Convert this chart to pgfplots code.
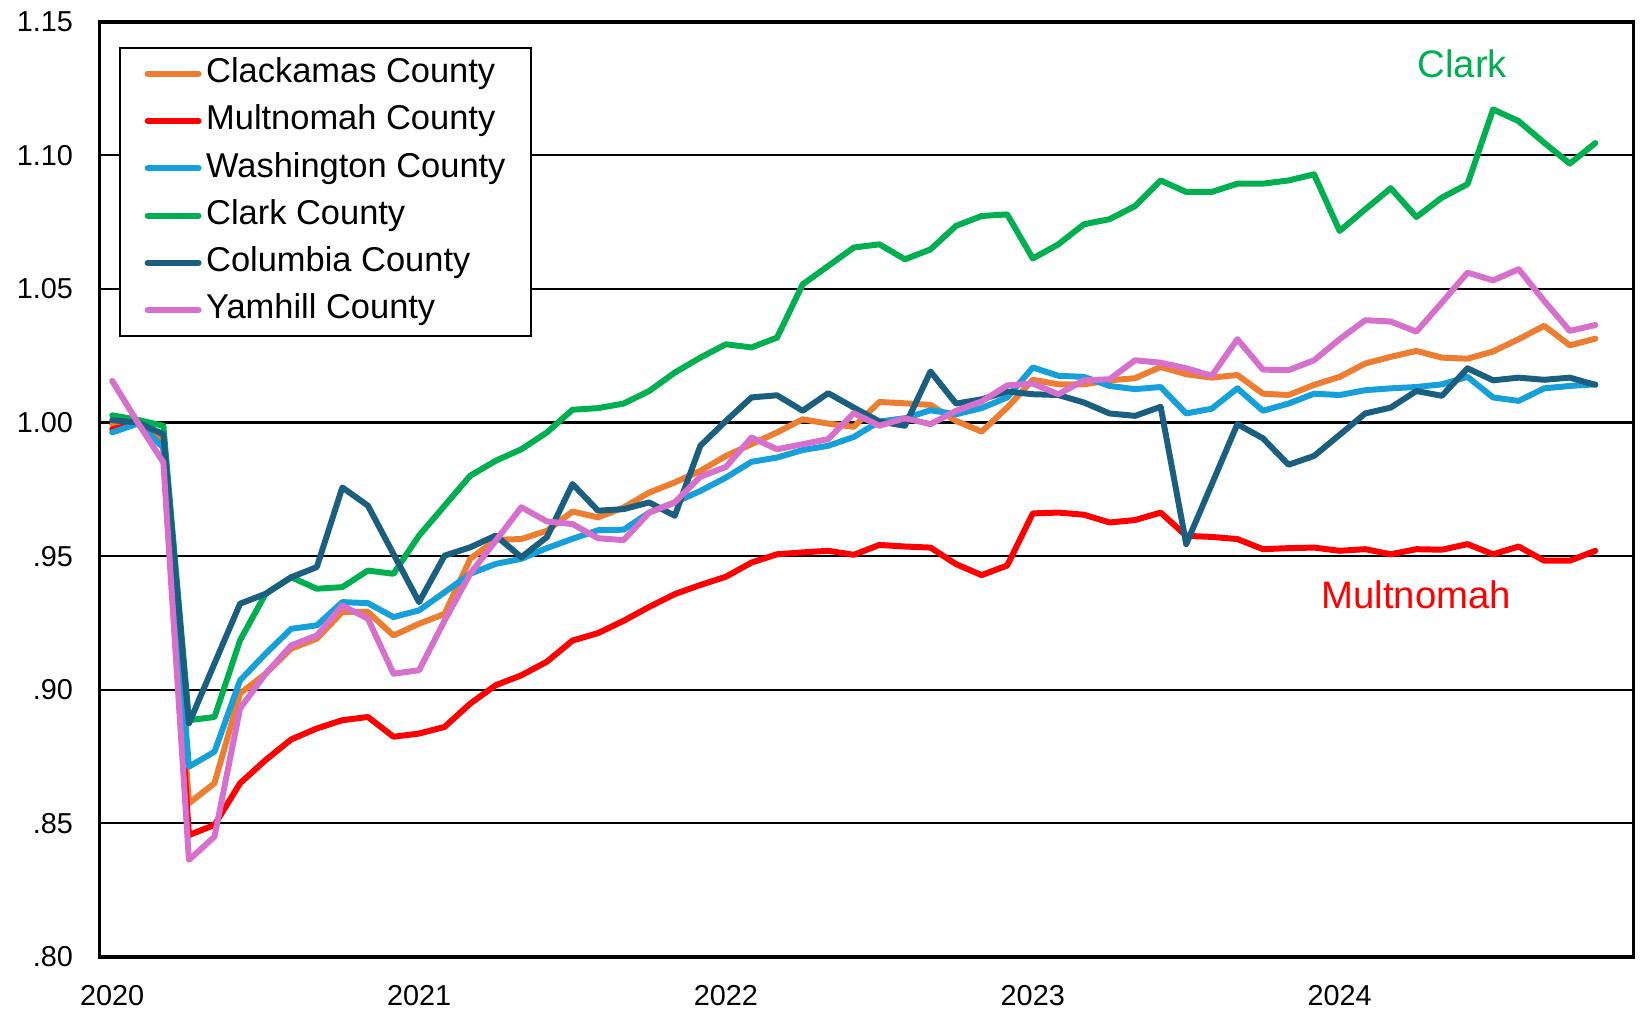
\documentclass[border=0pt]{standalone}
\usepackage{fontspec}
\setmainfont{Liberation Sans}
\usepackage{pgfplots}
\usepackage{pgfplotstable}
\pgfplotsset{compat=1.18}

\definecolor{clackamas}{RGB}{237,125,49}
\definecolor{multnomah}{RGB}{255,0,0}
\definecolor{washington}{RGB}{22,160,218}
\definecolor{clark}{RGB}{0,176,80}
\definecolor{columbia}{RGB}{26,94,128}
\definecolor{yamhill}{RGB}{214,112,204}

% m = month index, 0 = Jan 2020
\pgfplotstableread{
m  clack  mult   wash   clark  colum  yamh
0  0.9994 0.9975 0.9963 1.0027 1.0009 1.0156
1  1.0000 0.9996 0.9996 1.0010 1.0000 1.0000
2  0.9932 0.9907 0.9907 0.9988 0.9956 0.9851
3  0.8575 0.8456 0.8712 0.8886 0.8874 0.8363
4  0.8650 0.8494 0.8768 0.8898 0.9098 0.8450
5  0.8986 0.8650 0.9035 0.9185 0.9322 0.8930
6  0.9060 0.8737 0.9135 0.9359 0.9359 0.9060
7  0.9154 0.8814 0.9228 0.9421 0.9421 0.9166
8  0.9191 0.8855 0.9241 0.9378 0.9459 0.9203
9  0.9291 0.8886 0.9328 0.9384 0.9757 0.9315
10 0.9291 0.8898 0.9324 0.9446 0.9689 0.9266
11 0.9203 0.8824 0.9272 0.9434 0.9508 0.9060
12 0.9247 0.8836 0.9297 0.9577 0.9328 0.9073
13 0.9284 0.8861 0.9365 0.9689 0.9502 0.9259
14 0.9490 0.8948 0.9434 0.9801 0.9533 0.9434
15 0.9561 0.9017 0.9471 0.9857 0.9577 0.9558
16 0.9564 0.9054 0.9490 0.9900 0.9496 0.9683
17 0.9595 0.9105 0.9530 0.9963 0.9571 0.9630
18 0.9667 0.9184 0.9565 1.0048 0.9770 0.9620
19 0.9645 0.9212 0.9597 1.0054 0.9670 0.9567
20 0.9682 0.9258 0.9599 1.0071 0.9676 0.9560
21 0.9738 0.9310 0.9663 1.0118 0.9701 0.9663
22 0.9776 0.9358 0.9701 1.0187 0.9651 0.9701
23 0.9819 0.9392 0.9744 1.0243 0.9913 0.9797
24 0.9875 0.9423 0.9794 1.0293 1.0006 0.9834
25 0.9919 0.9476 0.9853 1.0281 1.0094 0.9944
26 0.9963 0.9507 0.9869 1.0318 1.0102 0.9900
27 1.0012 0.9514 0.9897 1.0517 1.0044 0.9919
28 0.9996 0.9520 0.9913 1.0586 1.0110 0.9938
29 0.9984 0.9505 0.9946 1.0655 1.0056 1.0035
30 1.0077 0.9542 1.0004 1.0667 1.0004 0.9988
31 1.0072 0.9536 1.0016 1.0611 0.9988 1.0016
32 1.0066 0.9532 1.0046 1.0648 1.0191 0.9994
33 1.0006 0.9470 1.0031 1.0736 1.0071 1.0044
34 0.9966 0.9429 1.0054 1.0773 1.0087 1.0079
35 1.0056 0.9465 1.0094 1.0779 1.0116 1.0139
36 1.0160 0.9660 1.0206 1.0614 1.0106 1.0146
37 1.0143 0.9663 1.0175 1.0667 1.0103 1.0106
38 1.0143 0.9655 1.0171 1.0742 1.0075 1.0158
39 1.0158 0.9626 1.0137 1.0761 1.0034 1.0162
40 1.0166 0.9635 1.0125 1.0810 1.0025 1.0233
41 1.0208 0.9663 1.0133 1.0906 1.0059 1.0224
42 1.0181 0.9576 1.0034 1.0863 0.9545 1.0203
43 1.0168 0.9572 1.0052 1.0863 0.9769 1.0175
44 1.0178 0.9564 1.0128 1.0894 0.9994 1.0312
45 1.0108 0.9526 1.0044 1.0894 0.9941 1.0198
46 1.0103 0.9530 1.0071 1.0906 0.9842 1.0196
47 1.0141 0.9532 1.0108 1.0929 0.9875 1.0233
48 1.0171 0.9520 1.0103 1.0717 0.9954 1.0312
49 1.0221 0.9526 1.0121 1.0798 1.0034 1.0383
50 1.0246 0.9507 1.0128 1.0877 1.0056 1.0378
51 1.0268 0.9526 1.0133 1.0769 1.0118 1.0340
52 1.0243 0.9524 1.0143 1.0842 1.0100 1.0449
53 1.0239 0.9545 1.0171 1.0892 1.0203 1.0561
54 1.0266 0.9507 1.0094 1.1172 1.0158 1.0532
55 1.0312 0.9536 1.0081 1.1128 1.0168 1.0574
56 1.0362 0.9483 1.0128 1.1047 1.0160 1.0455
57 1.0289 0.9483 1.0137 1.0969 1.0168 1.0343
58 1.0314 0.9520 1.0143 1.1046 1.0141 1.0365
}\datatable

\begin{document}
\begin{tikzpicture}
\begin{axis}[
  scale only axis,
  width=15.34cm, height=9.35cm,
  xmin=-0.5, xmax=59.5,
  ymin=0.80, ymax=1.15,
  xtick={0,12,24,36,48},
  xticklabels={2020,2021,2022,2023,2024},
  ytick={0.80,0.85,0.90,0.95,1.00,1.05,1.10,1.15},
  yticklabels={.80,.85,.90,.95,1.00,1.05,1.10,1.15},
  major tick length=0pt,
  tick label style={font=\fontsize{8.2}{9.8}\selectfont},
  xticklabel style={yshift=-4.6pt},
  yticklabel style={xshift=-4pt},
  ymajorgrids, grid style={black, line width=0.6pt},
  axis line style={black, line width=1pt},
  legend cell align=left,
  legend style={at={(0.0125,0.973)}, anchor=north west,
                draw=black, line width=0.6pt,
                font=\fontsize{9.8}{11.8}\selectfont,
                inner xsep=5.9pt, inner ysep=1.3pt,
                row sep=1.45pt,
                nodes={inner sep=1.3pt, text height=7.2pt, text depth=2.2pt}},
  legend image code/.code={\path (-1.2pt,0pt);
                           \draw[#1] (0cm,0cm) -- (0.51cm,0cm);},
  every axis plot/.append style={line width=1.7pt, line join=round, line cap=round},
]
\addplot[clackamas] table[x=m, y=clack] {\datatable};
\addlegendentry{Clackamas County}
\addplot[multnomah] table[x=m, y=mult] {\datatable};
\addlegendentry{Multnomah County}
\addplot[washington] table[x=m, y=wash] {\datatable};
\addlegendentry{Washington County}
\addplot[clark] table[x=m, y=clark] {\datatable};
\addlegendentry{Clark County}
\addplot[columbia] table[x=m, y=colum] {\datatable};
\addlegendentry{Columbia County}
\addplot[yamhill] table[x=m, y=yamh] {\datatable};
\addlegendentry{Yamhill County}

\node[text=clark, font=\fontsize{10.9}{13}\selectfont] at (axis cs:52.8,1.1344) {Clark};
\node[text=multnomah, font=\fontsize{10.9}{13}\selectfont] at (axis cs:51.0,0.9355) {Multnomah};
\end{axis}
\path (current axis.south west) +(-0.994cm,-0.60cm);
\path (current axis.north east) +(0.063cm,0.21cm);
\end{tikzpicture}
\end{document}
